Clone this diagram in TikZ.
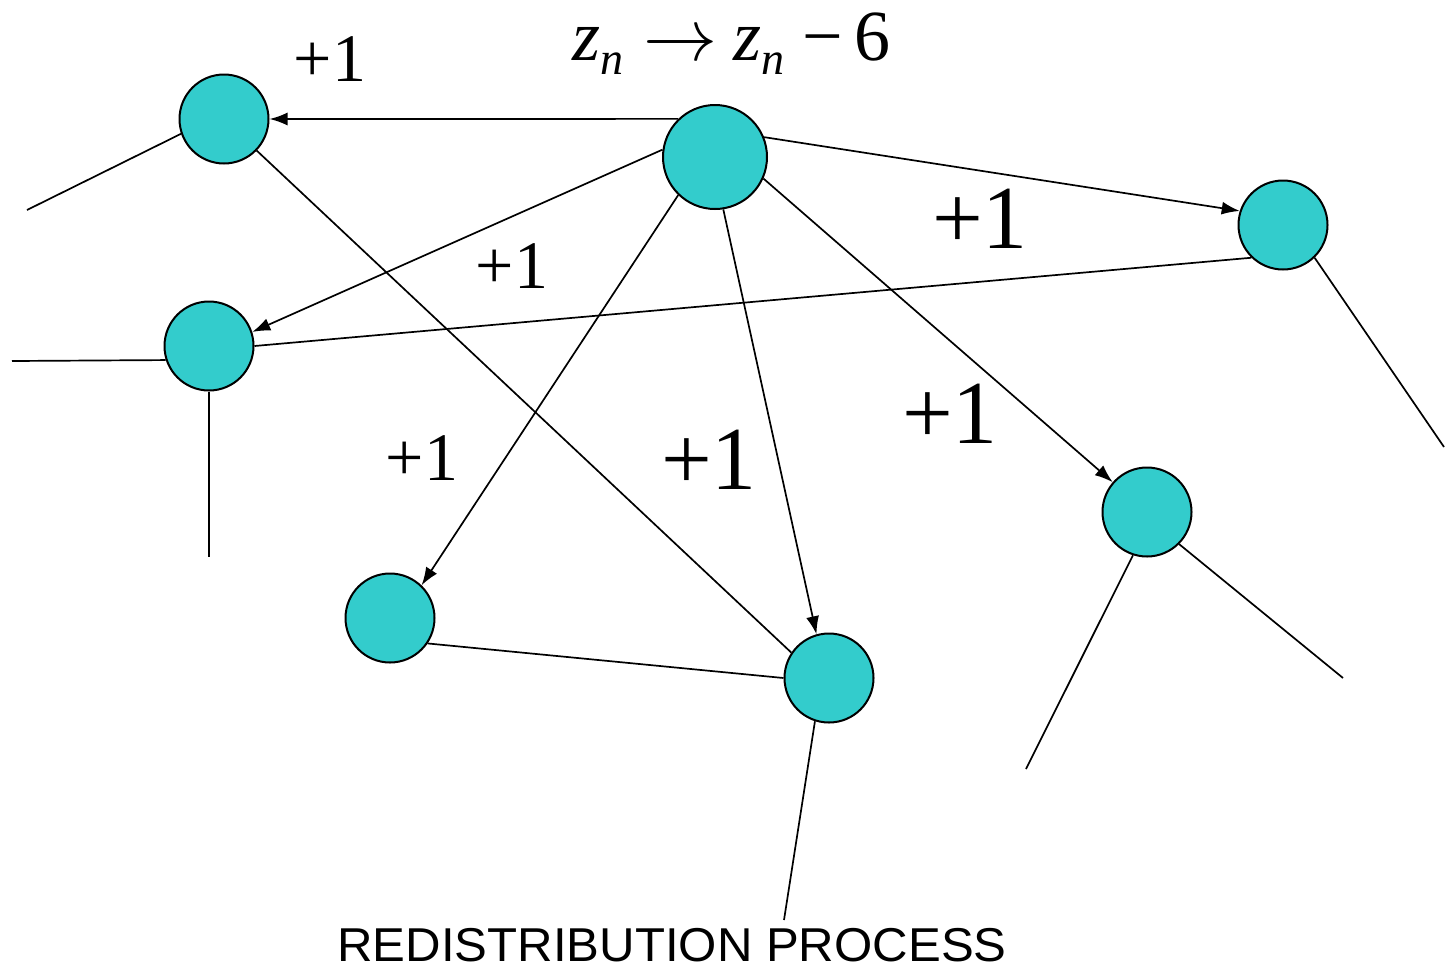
\documentclass[tikz,border=0pt]{standalone}
\usepackage{graphicx}
\usepackage{fontspec}
\setmainfont{Liberation Serif}
\newfontfamily\labelsans{Liberation Sans}
\usetikzlibrary{arrows.meta}
\definecolor{nodecyan}{HTML}{33CCCC}
\begin{document}
\begin{tikzpicture}[x=1pt,y=-1pt,
  dot/.style={circle, draw=black, fill=nodecyan, line width=2pt, minimum size=89pt, inner sep=0pt},
  bigdot/.style={dot, minimum size=104pt},
  link/.style={line width=1.7pt},
  arr/.style={link, -{Latex[length=18pt,width=13pt]}},
  smallone/.style={inner sep=0pt, font=\fontsize{68}{76}\selectfont},
  bigone/.style={inner sep=0pt, font=\fontsize{90}{100}\selectfont}]
\useasboundingbox (0,0) rectangle (1445,967);
% nodes
\node[dot] (A) at (224,119) {};
\node[bigdot] (C) at (715,157) {};
\node[dot] (R) at (1283,225) {};
\node[dot] (L) at (209,346) {};
\node[dot] (B1) at (390,618) {};
\node[dot] (B2) at (829,678) {};
\node[dot] (BR) at (1147,512) {};
% free ends
\coordinate (eA) at (27,210);
\coordinate (eL1) at (12,361);
\coordinate (eL2) at (209,557);
\coordinate (eR) at (1444,447);
\coordinate (eB2) at (784,920);
\coordinate (eBR1) at (1026,769);
\coordinate (eBR2) at (1343,678);
% arrows
\draw[arr] (C.134) -- (A.east);
\draw[arr] (C.22) -- (R.162);
\draw[arr] (C.172) -- (L.18);
\draw[arr] (C.226) -- (B1.46);
\draw[arr] (C.279) -- (B2.106);
\draw[arr] (C.336) -- (BR.139);
% plain links
\draw[link] (A.316) -- (B2.146);
\draw[link] (R.226) -- (L.east);
\draw[link] (R.314) -- (eR);
\draw[link] (A.199) -- (eA);
\draw[link] (L.198) -- (eL1);
\draw[link] (L.south) -- (eL2);
\draw[link] (B1.-34) -- (B2.west);
\draw[link] (B2.252) -- (eB2);
\draw[link] (BR.252) -- (eBR1);
\draw[link] (BR.315) -- (eBR2);
% labels
\node[smallone] (p1) at (330,59) {+1};
\node[smallone] (p2) at (512,266) {+1};
\node[smallone] (p3) at (422,458) {+1};
\node[bigone] (p4) at (709,460) {+1};
\node[bigone] (p5) at (980,219) {+1};
\node[bigone] (p6) at (950,414) {+1};
% title
\node[anchor=base west, inner sep=0pt] (title) at (572,60)
  {\fontsize{72}{80}\selectfont\itshape z\raisebox{-14pt}{\fontsize{46}{50}\selectfont n}\upshape\hspace{20pt}\scalebox{7.4}{\normalsize$\rightarrow$}\hspace{16pt}\itshape z\raisebox{-14pt}{\fontsize{46}{50}\selectfont n}\upshape\hspace{18pt}−\hspace{12pt}6};
% caption
\node[anchor=base, inner sep=0pt] (cap) at (672,961)
  {\labelsans\fontsize{47.5}{55}\selectfont\scalebox{1.035}[1]{REDISTRIBUTION PROCESS}};
\end{tikzpicture}
\end{document}
